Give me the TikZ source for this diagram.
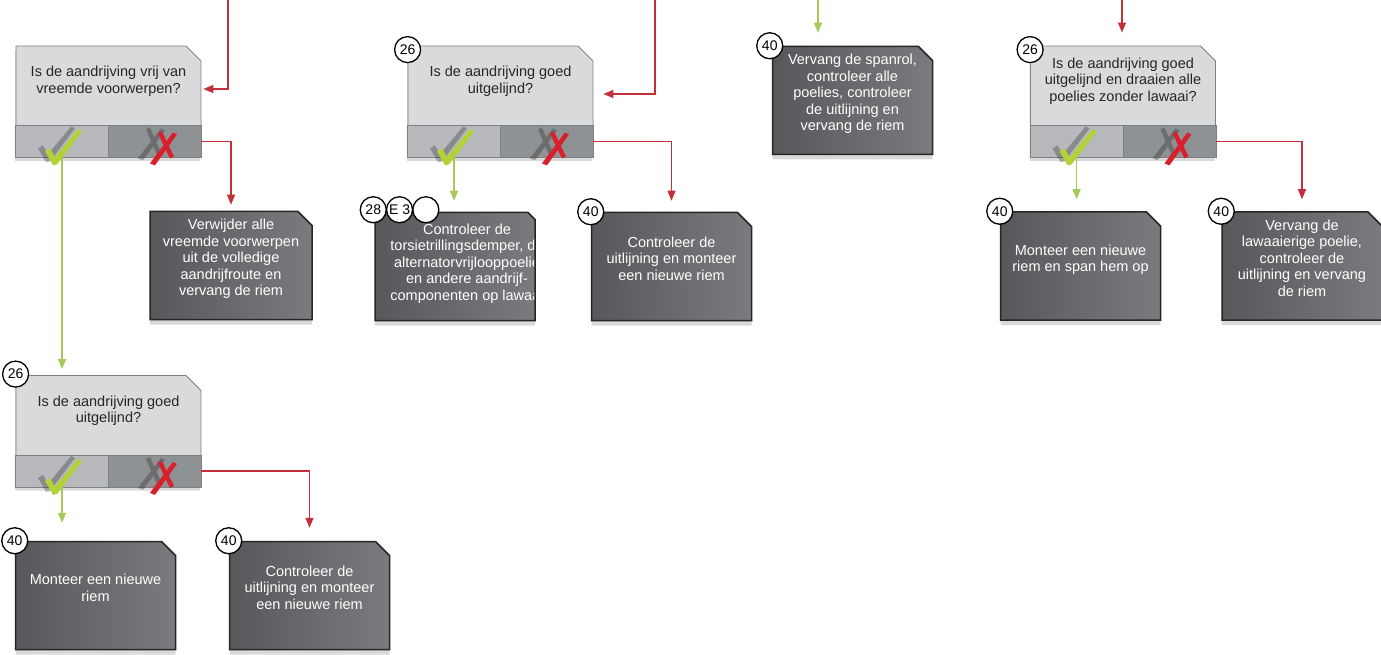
\documentclass[tikz,border=0pt]{standalone}
\usepackage{fontspec}
\setmainfont{Liberation Sans}
\usetikzlibrary{shapes.misc,arrows.meta,positioning,calc,shadows}

\definecolor{qtop}{HTML}{D8DADC}
\definecolor{qleft}{HTML}{B7B9BC}
\definecolor{qright}{HTML}{8F9295}
\definecolor{qline}{HTML}{7E8184}
\definecolor{actdark}{HTML}{57585B}
\definecolor{actlight}{HTML}{7A7B7E}
\definecolor{yesgreen}{HTML}{B2D235}
\definecolor{yesline}{HTML}{A6C95A}
\definecolor{nored}{HTML}{D8202C}
\definecolor{noline}{HTML}{C3303B}

\begin{document}
\begin{tikzpicture}[
        x=1pt, y=-1pt,
        question/.style={chamfered rectangle, chamfered rectangle corners=north east, chamfered rectangle xsep=7.5pt, chamfered rectangle ysep=7.5pt, draw=qline, line width=0.8pt, fill=qtop, minimum width=185pt, minimum height=111pt, inner sep=0pt, align=center, text=black!85, font=\fontsize{14.5}{16.5}\selectfont, text depth=44pt, drop shadow={opacity=0.3, shadow xshift=-1pt, shadow yshift=-4pt}},
        action/.style={chamfered rectangle, chamfered rectangle corners=north east, chamfered rectangle xsep=7pt, chamfered rectangle ysep=7pt, draw=black!85, line width=1.5pt, left color=actdark, right color=actlight, minimum width=160pt, minimum height=108pt, inner sep=0pt, align=center, text=white, font=\fontsize{14.5}{16.5}\selectfont, text depth=16pt, drop shadow={opacity=0.3, shadow xshift=0pt, shadow yshift=-5pt}},
        acttext/.style={align=center, text=white, font=\fontsize{14.5}{16.5}\selectfont},
        numtag/.style={circle, draw=black, line width=1.3pt, fill=white, minimum size=26pt, inner sep=0pt, font=\fontsize{14}{14}\selectfont},
        yes/.style={draw=yesline, line width=1.2pt, -{Triangle[width=8pt,length=10pt]}},
        no/.style={draw=noline, line width=1.2pt, -{Triangle[width=8pt,length=10pt]}},
        yesmark/.pic={
          \fill[black, opacity=0.25, shift={(-7,-3)}] (-17,10) -- (-12,7) -- (-7,16) -- (16,-12) -- (20,-10) -- (-5,23) -- (-9,24) -- cycle;
          \fill[yesgreen] (-17,10) -- (-12,7) -- (-7,16) -- (16,-12) -- (20,-10) -- (-5,23) -- (-9,24) -- cycle;
        },
        nomark/.pic={
          \fill[black, opacity=0.25, shift={(-12,-4)}] (-5,21) -- (18,-9) -- (22,-7) -- (0,23) -- cycle (3,-8) -- (7,-10) -- (18,15) -- (14,17) -- cycle;
          \fill[nored] (-5,22) -- (18,-9) -- (22,-7) -- (0,24) -- cycle;
          \fill[nored] (3,-8) -- (7,-10) -- (19,15) -- (15,17) -- cycle;
        }
      ]
        \useasboundingbox (0,0) rectangle (1381,655);

        % Questions
        \node[question] (q1) at (108.5,101.5) {Is de aandrijving vrij van\\vreemde voorwerpen?};
        \node[question] (q2) at (500.5,101.5) {Is de aandrijving goed\\uitgelijnd?};
        \node[question] (q3) at (1123,101.5) {Is de aandrijving goed\\uitgelijnd en draaien alle\\poelies zonder lawaai?};
        \node[question] (q4) at (108.5,431) {Is de aandrijving goed\\uitgelijnd?};

        % Yes / no bars
        \foreach \q in {q1,q2,q3,q4} {
          \fill[qleft] ([yshift=32pt]\q.south west) rectangle (\q.south);
          \fill[qright] ([yshift=32pt]\q.south) rectangle (\q.south east);
          \draw[qline, line width=0.8pt] ([yshift=32pt]\q.south west) rectangle (\q.south east);
          \draw[qline, line width=0.8pt] ([yshift=32pt]\q.south) -- (\q.south);
          \pic at ([yshift=16pt]$(\q.south west)!.5!(\q.south)$) {yesmark};
          \pic at ([yshift=16pt]$(\q.south)!.5!(\q.south east)$) {nomark};
        }

        % Actions
        \node[action, minimum width=162pt] (a1) at (231,265.5) {Verwijder alle\\vreemde voorwerpen\\uit de volledige\\aandrijfroute en\\vervang de riem};
        \node[action, path picture={\node[acttext] (a2txt) at ([xshift=12pt,yshift=-3.5pt]path picture bounding box.center) {Controleer de\\torsietrillingsdemper, de\\alternatorvrijlooppoelie\\en andere aandrijf-\\componenten op lawaai};}] (a2) at (455,266.5) {};
        \node[action] (a3) at (671.5,266.5) {Controleer de\\uitlijning en monteer\\een nieuwe riem};
        \node[action] (a4) at (852.5,100.5) {Vervang de spanrol,\\controleer alle\\poelies, controleer\\de uitlijning en\\vervang de riem};
        \node[action] (a5) at (1080.5,266) {Monteer een nieuwe\\riem en span hem op};
        \node[action] (a6) at (1302,266) {Vervang de\\lawaaierige poelie,\\controleer de\\uitlijning en vervang\\de riem};
        \node[action] (a7) at (95.5,595.5) {Monteer een nieuwe\\riem};
        \node[action] (a8) at (309.5,595.5) {Controleer de\\uitlijning en monteer\\een nieuwe riem};

        % Step numbers
        \node[numtag] (q2n) at ([yshift=-4pt]q2.north west) {26};
        \node[numtag] (q3n) at ([yshift=-4pt]q3.north west) {26};
        \node[numtag] (q4n) at ([yshift=1pt]q4.north west) {26};
        \node[numtag] (a2na) at ([xshift=-1pt,yshift=2pt]a2.north west) {28};
        \node[numtag, right=-1pt of a2na] (a2nb) {E 3};
        \node[numtag, right=-1pt of a2nb] (a2nc) {};
        \node[numtag] (a3n) at (a3.north west) {40};
        \node[numtag] (a4n) at ([xshift=-2pt]a4.north west) {40};
        \node[numtag] (a5n) at (a5.north west) {40};
        \node[numtag] (a6n) at (a6.north west) {40};
        \node[numtag] (a7n) at (a7.north west) {40};
        \node[numtag] (a8n) at (a8.north west) {40};

        % Incoming arrows
        \coordinate (in1) at (228,0);
        \coordinate (in2) at (655,0);
        \coordinate (in3) at (818,0);
        \coordinate (in4) at (1122,0);
        \draw[no, shorten >=2pt] (in1) |- ([yshift=12.5pt]q1.east);
        \draw[no, shorten >=10pt] (in2) |- ([yshift=7.5pt]q2.east);
        \draw[yes, shorten >=13pt] (in3) -- (in3 |- a4.north);
        \draw[no, shorten >=13pt] (in4) -- (in4 |- q3.north);

        % Arrows
        \draw[yes, shorten >=6pt] ($(q1.south west)!.5!(q1.south)$) coordinate (q1y) -- (q1y |- q4.north);
        \draw[no, shorten >=6pt] ([yshift=16pt]q1.south east) -| (a1.north);
        \draw[yes, shorten >=11pt] ($(q2.south west)!.5!(q2.south)$) coordinate (q2y) -- (q2y |- a2.north);
        \draw[no, shorten >=11pt] ([yshift=16pt]q2.south east) -| (a3.north);
        \draw[yes, shorten >=12pt] ($(q3.south west)!.5!(q3.south)$) coordinate (q3y) -- (q3y |- a5.north);
        \draw[no, shorten >=12pt] ([yshift=16pt]q3.south east) -| (a6.north);
        \draw[yes, shorten >=18pt] ($(q4.south west)!.5!(q4.south)$) coordinate (q4y) -- (q4y |- a7.north);
        \draw[no, shorten >=13pt] ([yshift=16pt]q4.south east) -| (a8.north);
      \end{tikzpicture}
\end{document}
